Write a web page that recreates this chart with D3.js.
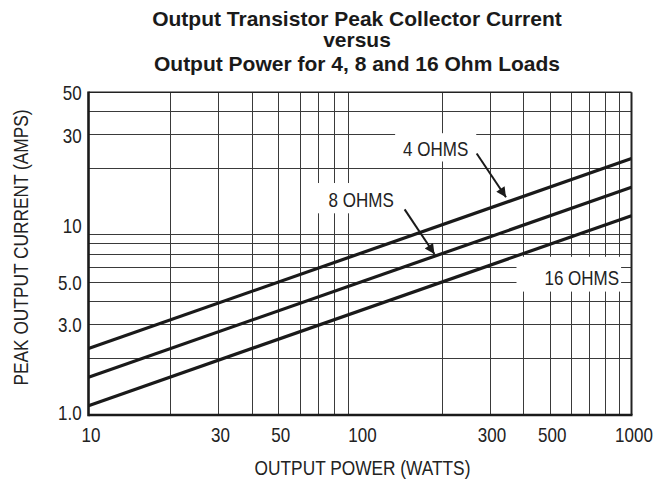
<!DOCTYPE html>
<html>
<head>
<meta charset="utf-8">
<script src="https://cdn.jsdelivr.net/npm/d3@7"></script>
<style>
  html, body { margin: 0; padding: 0; background: #fff; }
  svg { display: block; }
  text.narrow, .narrow text { font-family: "Liberation Sans", Arial, sans-serif; }
</style>
</head>
<body>
<svg id="chart" width="655" height="479"></svg>
<script>
// ---- data ----
const titleLines = [
  "Output Transistor Peak Collector Current",
  "versus",
  "Output Power for 4, 8 and 16 Ohm Loads"
];
const xTitle = "OUTPUT POWER (WATTS)";
const yTitle = "PEAK OUTPUT CURRENT (AMPS)";

const xTickValues = [10, 30, 50, 100, 300, 500, 1000];
const xTickLabels = ["10", "30", "50", "100", "300", "500", "1000"];
const yTickValues = [1, 3, 5, 10, 30, 50];
const yTickLabels = ["1.0", "3.0", "5.0", "10", "30", "50"];
const xGridValues = [20, 30, 40, 50, 60, 70, 80, 90, 200, 300, 400, 500, 600, 700, 800, 900];
const yGridValues = [2, 3, 4, 5, 6, 7, 8, 9, 20, 30, 40];

const powerWatts = [10, 1000];
const current4Ohm = [2.24, 22.4];
const current8Ohm = [1.58, 15.8];
const current16Ohm = [1.12, 11.2];

const seriesNames = ["4 OHMS", "8 OHMS", "16 OHMS"];
// label anchor (text middle, baseline) in data units
const labelPower = [190, 101, 656];
const labelCurrent = [23.1, 12.4, 4.83];
// arrows: tail -> tip in data units (none for 16 OHMS)
const arrowTailPower = [269, 146];
const arrowTailCurrent = [23.8, 12.1];
const arrowTipPower = [345, 188];
const arrowTipCurrent = [14.0, 7.04];

// ---- layout ----
const NARROW = 0.85;
const svg = d3.select("#chart");
const x = d3.scaleLog().domain([10, 1000]).range([88.5, 631.5]);
const y = d3.scaleLog().domain([1, 50]).range([415, 92.3]);
const labelPad = [[8, 8, 8.5, 5.5], [13, 6, 10, 6], [28, 2, 14, 6.5]]; // l, r, t, b

// title
svg.append("g").selectAll("text").data(titleLines).join("text")
  .attr("x", 357)
  .attr("y", (d, i) => [25.8, 46.8, 70.5][i])
  .attr("text-anchor", "middle")
  .attr("font-family", "Liberation Sans, Arial, sans-serif")
  .attr("font-weight", "bold")
  .attr("font-size", 21)
  .attr("fill", "#1a1a1a")
  .text(d => d);

// grid
const grid = svg.append("g").attr("stroke", "#3a3a3a").attr("stroke-width", 1).attr("shape-rendering", "crispEdges");
grid.selectAll("line.v").data(xGridValues).join("line").attr("class", "v")
  .attr("x1", d => Math.round(x(d)) + 0.5).attr("x2", d => Math.round(x(d)) + 0.5)
  .attr("y1", y(50)).attr("y2", y(1));
grid.selectAll("line.h").data(yGridValues).join("line").attr("class", "h")
  .attr("y1", d => Math.round(y(d)) + 0.5).attr("y2", d => Math.round(y(d)) + 0.5)
  .attr("x1", x(10)).attr("x2", x(1000));

// frame
svg.append("line").attr("x1", x(10)).attr("x2", x(1000)).attr("y1", y(50)).attr("y2", y(50))
  .attr("stroke", "#222").attr("stroke-width", 1.5);
svg.append("line").attr("x1", x(1000)).attr("x2", x(1000)).attr("y1", y(50)).attr("y2", y(1))
  .attr("stroke", "#222").attr("stroke-width", 2);

// label text (measure first, then white boxes behind)
const boxG = svg.append("g");
const seriesData = [current4Ohm, current8Ohm, current16Ohm];
const lineG = svg.append("g");
const labels = svg.append("g");
const labelTexts = labels.selectAll("text").data(seriesNames).join("text")
  .attr("class", "narrow")
  .attr("transform", (d, i) => `translate(${x(labelPower[i])},${y(labelCurrent[i])}) scale(${NARROW},1)`)
  .attr("text-anchor", "middle")
  .attr("font-size", 20)
  .attr("fill", "#222")
  .text(d => d);

labelTexts.each(function (d, i) {
  const w = this.getComputedTextLength() * NARROW;
  const cx = x(labelPower[i]);
  const by = y(labelCurrent[i]);
  const cap = 14.3;
  const p = labelPad[i];
  boxG.append("rect")
    .attr("x", cx - w / 2 - p[0])
    .attr("y", by - cap - p[2])
    .attr("width", w + p[0] + p[1])
    .attr("height", cap + p[2] + p[3])
    .attr("fill", "#fff");
});

// series lines
const lineGen = d3.line().x(d => x(d[0])).y(d => y(d[1]));
lineG.selectAll("path").data(seriesData).join("path")
  .attr("d", vals => lineGen(powerWatts.map((p, j) => [p, vals[j]])))
  .attr("fill", "none")
  .attr("stroke", "#1a1a1a")
  .attr("stroke-width", 3.2);

// arrows
const defs = svg.append("defs");
defs.append("marker").attr("id", "ah").attr("viewBox", "0 0 10 10")
  .attr("refX", 10).attr("refY", 5).attr("markerUnits", "userSpaceOnUse")
  .attr("markerWidth", 15).attr("markerHeight", 10).attr("orient", "auto")
  .append("path").attr("d", "M0,0 L10,5 L0,10 Z").attr("fill", "#1a1a1a");
svg.append("g").selectAll("line").data(arrowTailPower).join("line")
  .attr("x1", (d, i) => x(arrowTailPower[i]))
  .attr("y1", (d, i) => y(arrowTailCurrent[i]))
  .attr("x2", (d, i) => x(arrowTipPower[i]))
  .attr("y2", (d, i) => y(arrowTipCurrent[i]))
  .attr("stroke", "#1a1a1a").attr("stroke-width", 2)
  .attr("marker-end", "url(#ah)");

// axes
const xAxis = d3.axisBottom(x).tickValues(xTickValues).tickSize(0).tickPadding(0)
  .tickFormat((d, i) => xTickLabels[i]);
const gx = svg.append("g").attr("class", "narrow").attr("transform", `translate(2,${y(1)})`).call(xAxis);
gx.attr("font-family", null).attr("font-size", null);
gx.select(".domain").remove();
gx.selectAll("text").attr("font-size", 20).attr("fill", "#222").attr("dy", null).attr("y", null)
  .attr("transform", `translate(0,26.5) scale(${NARROW},1)`);

const yAxis = d3.axisLeft(y).tickValues(yTickValues).tickSize(0).tickPadding(0)
  .tickFormat((d, i) => yTickLabels[i]);
const gy = svg.append("g").attr("class", "narrow").attr("transform", `translate(${x(10) - 6.8},0)`).call(yAxis);
gy.attr("font-family", null).attr("font-size", null);
gy.select(".domain").remove();
gy.selectAll("text").attr("font-size", 20).attr("fill", "#222").attr("dy", null).attr("x", null)
  .attr("transform", d => `translate(0,${d === 1 ? 4.5 : 7.6}) scale(${NARROW},1)`);

// left & bottom axis lines (thick)
svg.append("line").attr("x1", x(10)).attr("x2", x(10)).attr("y1", y(50) - 0.8).attr("y2", y(1) + 1.2)
  .attr("stroke", "#1a1a1a").attr("stroke-width", 2.6);
svg.append("line").attr("x1", x(10)).attr("x2", x(1000) + 1).attr("y1", y(1)).attr("y2", y(1))
  .attr("stroke", "#1a1a1a").attr("stroke-width", 2.6);

// axis titles
svg.append("text").attr("class", "narrow")
  .attr("transform", `translate(362.5,474.5) scale(0.865,1)`)
  .attr("text-anchor", "middle")
  .attr("font-size", 20).attr("fill", "#222").text(xTitle);
svg.append("text").attr("class", "narrow")
  .attr("transform", `translate(27.5,247.5) rotate(-90) scale(0.865,1)`)
  .attr("text-anchor", "middle")
  .attr("font-size", 20).attr("fill", "#222").text(yTitle);
</script>
</body>
</html>
